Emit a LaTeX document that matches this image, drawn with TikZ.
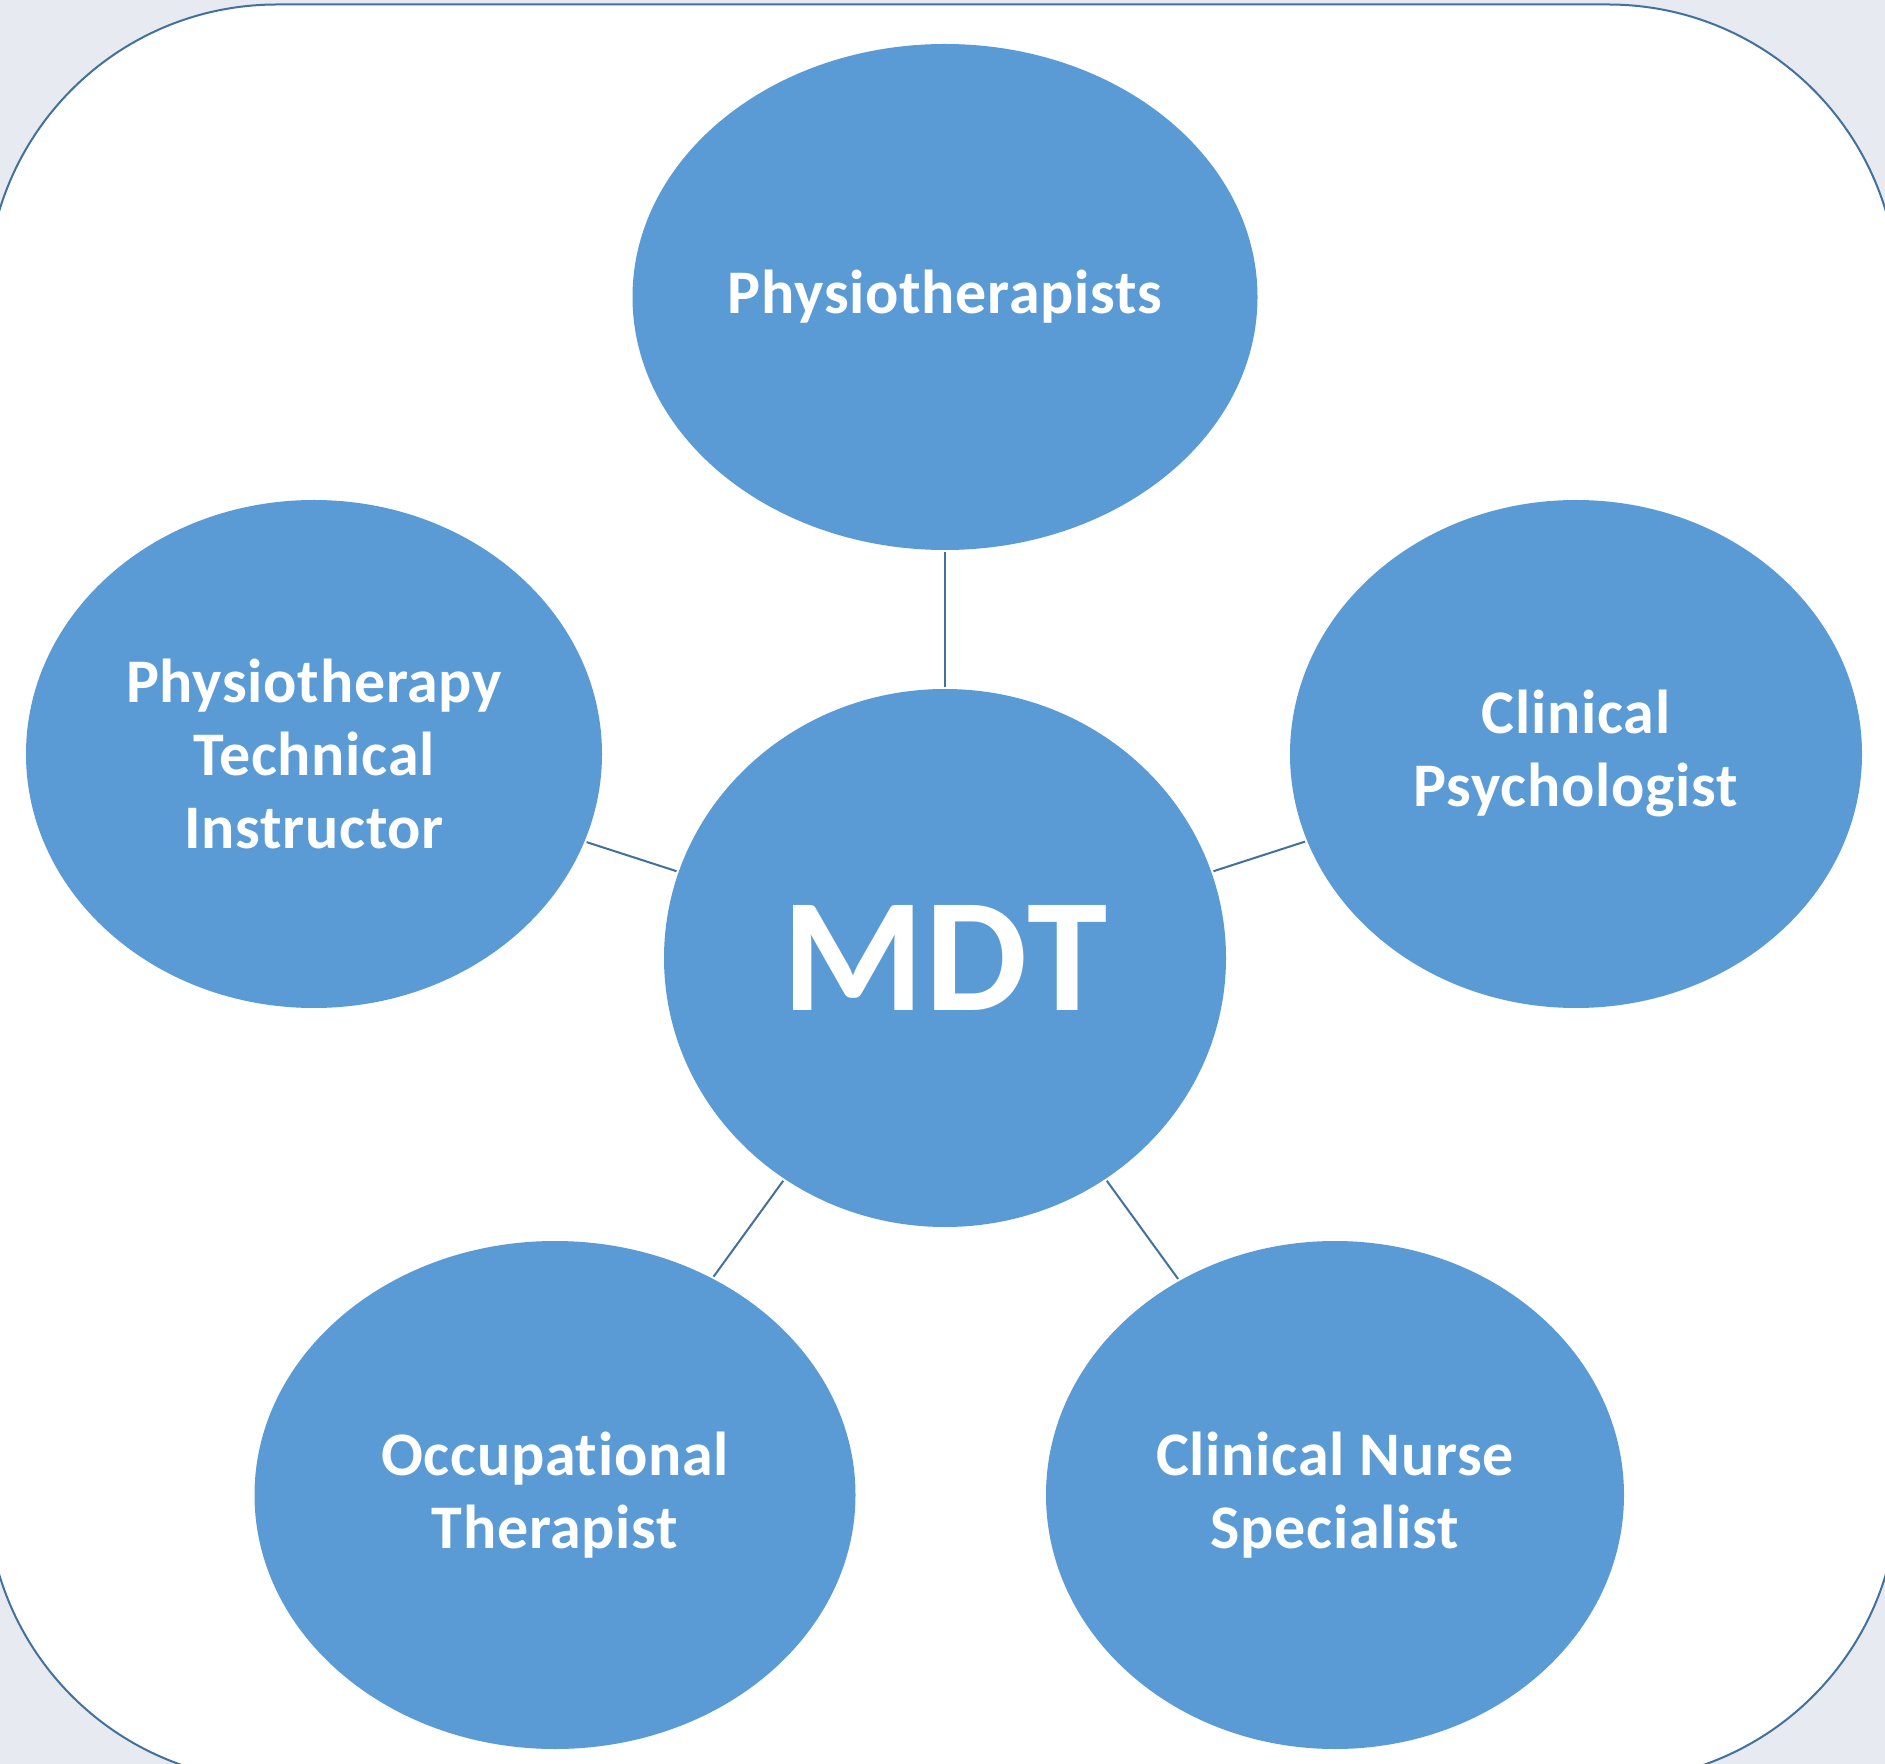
\documentclass[tikz,border=0pt]{standalone}
\usepackage{xcolor}
\usepackage{fontspec}
\setmainfont{Carlito}[Ligatures=NoCommon, LetterSpace=1.2]
\usepackage{tikz}
\usetikzlibrary{shapes.geometric,positioning,calc}
\definecolor{pagegray}{HTML}{E7EAF0}
\definecolor{frameblue}{HTML}{41719C}
\definecolor{cellblue}{HTML}{5B9BD5}
\tikzset{
	link/.style={-, draw=frameblue, line width=1pt, shorten <=1pt, shorten >=1pt},
}
\tikzstyle{nell} = [ellipse, fill=cellblue, draw=none, inner sep=0pt, align=center, text=white, font=\fontsize{31}{36.5}\selectfont\bfseries]

\begin{document}
\begin{tikzpicture}[x=0.5pt, y=-0.5pt]
	\useasboundingbox (0,0) rectangle (1885,1764);
	\fill[pagegray] (0,0) rectangle (1885,1764);
	\begin{scope}
	\clip (0,0) rectangle (1885,1764);
	\draw[frameblue, fill=white, line width=1pt, rounded corners=145pt] (-13,4.5) rectangle (1898,1781);
	\end{scope}
	
	\node[nell, minimum width=281pt, minimum height=269pt, font=\fontsize{81}{90}\selectfont\bfseries] (mdt) at (945,958) {MDT};
	\node[nell, minimum width=312.5pt, minimum height=253pt] (physio) at (945,297) {Physiotherapists};
	\node[nell, minimum width=288pt, minimum height=254pt] (instr) at (314,754) {Physiotherapy\\Technical\\Instructor};
	\node[nell, minimum width=286pt, minimum height=254pt] (psych) at (1576,754) {Clinical\\Psychologist};
	\node[nell, minimum width=300.5pt, minimum height=254pt] (occ) at (555,1495) {Occupational\\Therapist};
	\node[nell, minimum width=289pt, minimum height=254pt] (nurse) at (1335,1495) {Clinical Nurse\\Specialist};
	
	\foreach \n in {physio,instr,psych,occ,nurse}
	\path (mdt) edge [link] (\n);
\end{tikzpicture}
\end{document}
